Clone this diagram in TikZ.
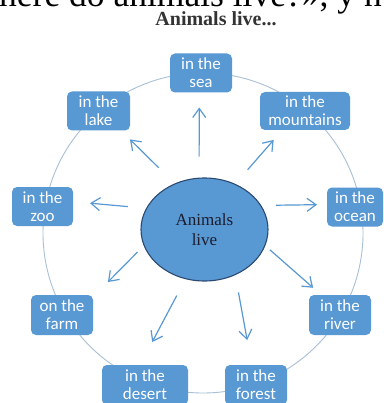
\documentclass[tikz,border=0pt]{standalone}
\usepackage{fontspec}
\setmainfont{Liberation Serif}
\newfontfamily\boxfont{Carlito}
\usetikzlibrary{arrows.meta,shapes.geometric}
\definecolor{boxblue}{HTML}{5898D3}
\definecolor{ringc}{HTML}{A9C0D6}
\definecolor{ellborder}{HTML}{2A4A72}
\definecolor{titlegray}{HTML}{333333}
\definecolor{elltext}{HTML}{1C1C2C}
\begin{document}
\begin{tikzpicture}[x=1pt,y=-1pt,
  box/.style={rectangle, rounded corners=5pt, fill=boxblue, text=white,
    font=\boxfont\fontsize{17}{18}\selectfont, align=center,
    inner sep=0pt, outer sep=0pt, minimum height=39pt},
  arr/.style={draw=boxblue, line width=1.2pt, -{Straight Barb[length=9pt,width=13pt]}},
  ring/.style={draw=ringc, line width=0.9pt}
]
\useasboundingbox (0,0) rectangle (383,403);
\clip (0,0) rectangle (383,403);
\fill[white] (0,0) rectangle (383,403);

% clipped heading line
\node[font=\fontsize{35.5}{40}\selectfont, anchor=base west, inner sep=0pt] (head) at (-1,7) {here do animals live?», y n};
% title
\node[font=\bfseries\fontsize{20}{24}\selectfont, text=titlegray, anchor=base, inner sep=0pt] (title) at (216,26) {Animals live...};

% ring
\draw[ring] (203,233) circle[radius=160];

% centre
\node[ellipse, fill=boxblue, draw=ellborder, line width=1.1pt, minimum width=127pt, minimum height=103pt,
  inner sep=0pt, align=center, text=elltext, font=\fontsize{17}{20}\selectfont] (c) at (204.5,229.5) {Animals\\live};

% boxes
\node[box, minimum width=62pt] (sea) at (201,73) {in the\\sea};
\node[box, minimum width=90pt, minimum height=38pt] (mount) at (305,111) {in the\\mountains};
\node[box, minimum width=56pt] (ocean) at (355,207) {in the\\ocean};
\node[box, minimum width=63pt] (lake) at (98.5,111) {in the\\lake};
\node[box, minimum width=61pt] (zoo) at (42.5,206.5) {in the\\zoo};
\node[box, minimum width=62pt, minimum height=40pt] (farm) at (62,315) {on the\\farm};
\node[box, minimum width=62pt, minimum height=40pt] (river) at (340,315) {in the\\river};
\node[box, minimum width=86pt, minimum height=40pt] (desert) at (145,385) {in the\\desert};
\node[box, minimum width=62pt, minimum height=40pt] (forest) at (256,385) {in the\\forest};

% arrows
\draw[arr, shorten <=21pt, shorten >=15pt] (c.96.1) -- (sea.-95);
\draw[arr, shorten <=18.8pt, shorten >=13.2pt] (c.56.3) -- (mount.-140.8);
\draw[arr, shorten <=14.6pt, shorten >=10pt] (c.23.7) -- (ocean.175.9);
\draw[arr, shorten <=6pt, shorten >=10.9pt] (c.-15.7) -- (river.133.1);
\draw[arr, shorten <=17.5pt, shorten >=25.4pt] (c.-56.2) -- (forest.102.1);
\draw[arr, shorten <=18.5pt, shorten >=26pt] (c.249.1) -- (desert.104.6);
\draw[arr, shorten <=8.8pt, shorten >=21.2pt] (c.195.1) -- (farm.30.1);
\draw[arr, shorten <=18.2pt, shorten >=17.1pt] (c.160.1) -- (zoo.9.7);
\draw[arr, shorten <=22.5pt, shorten >=12.7pt] (c.123.8) -- (lake.-41.6);
\end{tikzpicture}
\end{document}
